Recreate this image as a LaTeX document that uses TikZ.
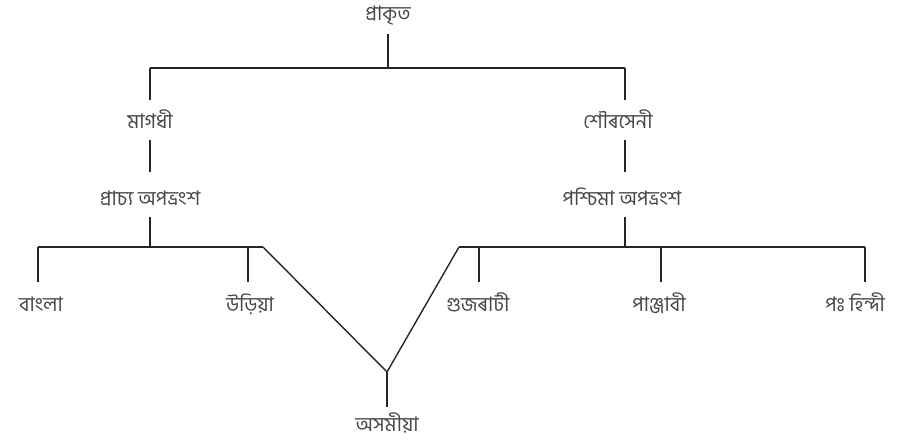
\documentclass[tikz,border=0pt]{standalone}
\usepackage{fontspec}
\newfontfamily\bnfont[Script=Bengali]{Hind Siliguri}
\usepackage{tikz}
\usetikzlibrary{positioning, calc}
\tikzset{
  langname/.style={
    font=\bnfont\fontsize{20}{22}\selectfont, text=black!72,
    inner sep=0pt, text height=10pt, text depth=4pt
  },
  treeline/.style={
    line width=1.4pt, color=black!85
  },
  intonode/.style={shorten >=16pt},
  outofnode/.style={shorten <=8pt},
}

\begin{document}
\begin{tikzpicture}[x=1pt, y=-1pt]
  \useasboundingbox (0,0) rectangle (901,444);

  % Root
  \node[langname] (prakrit) at (388,18) {প্ৰাকৃত};

  % Middle branches
  \node[langname] (magadhi) at (150,125) {মাগধী};
  \node[langname] (sauraseni) at (618,125) {শৌৰসেনী};
  \node[langname] (pracya) at (150,202) {প্ৰাচ্য অপভ্ৰংশ};
  \node[langname] (pascima) at (622,202) {পশ্চিমা অপভ্ৰংশ};

  % Leaves
  \node[langname] (bangla) at (41,308) {বাংলা};
  \node[langname] (oriya) at (250,308) {উড়িয়া};
  \node[langname] (gujarati) at (478,308) {গুজৰাটী};
  \node[langname] (panjabi) at (659,308) {পাঞ্জাবী};
  \node[langname] (hindi) at (855,308) {পঃ হিন্দী};
  \node[langname] (asamiya) at (387,428) {অসমীয়া};

  % Junctions
  \coordinate (topL) at (150,68);
  \coordinate (topR) at (625,68);
  \coordinate (lbarL) at (38,247);
  \coordinate (lbarR) at (263,247);
  \coordinate (rbarL) at (459,247);
  \coordinate (rbarR) at (865,247);
  \coordinate (vtip) at (387,372);

  % Top split
  \draw[treeline, shorten <=9pt] (prakrit.south) -- (prakrit.south |- topL);
  \draw[treeline] (topL) -- (topR);
  \draw[treeline, shorten >=18pt] (topL) -- (magadhi.north -| topL);
  \draw[treeline, shorten >=18pt] (topR) -- (sauraseni.north -| topR);

  % Down to the Apabhramsha stages
  \draw[treeline, outofnode, shorten >=23pt] (magadhi.south) -- (pracya.north);
  \draw[treeline, outofnode, shorten >=23pt] (sauraseni.south -| topR) -- (pascima.north -| topR);
  \draw[treeline, outofnode] (pracya.south) -- (pracya.south |- lbarL);
  \draw[treeline, outofnode] (pascima.south -| topR) -- (topR |- rbarL);

  % Bars
  \draw[treeline] (lbarL) -- (lbarR);
  \draw[treeline] (rbarL) -- (rbarR);

  % Leaves
  \draw[treeline, shorten >=19pt] (lbarL) -- (lbarL |- bangla.north);
  \draw[treeline, shorten >=19pt] (248,247) -- (248,0 |- oriya.north);
  \draw[treeline, shorten >=19pt] (479,247) -- (479,0 |- gujarati.north);
  \draw[treeline, shorten >=19pt] (661,247) -- (661,0 |- panjabi.north);
  \draw[treeline, shorten >=19pt] (rbarR) -- (rbarR |- hindi.north);

  % Assamese from both sides
  \draw[treeline] (lbarR) -- (vtip) -- (rbarL);
  \draw[treeline, shorten >=14pt] (vtip) -- (vtip |- asamiya.north);
\end{tikzpicture}
\end{document}
